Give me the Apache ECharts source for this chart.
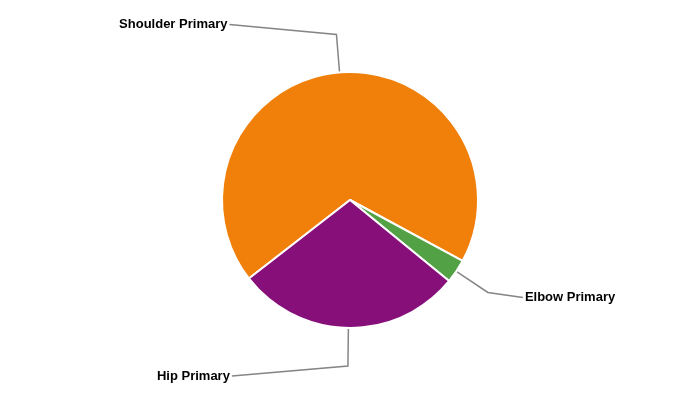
<!DOCTYPE html>
<html>
<head>
<meta charset="utf-8">
<script src="https://cdn.jsdelivr.net/npm/echarts@6/dist/echarts.min.js"></script>
<style>
  html, body { margin: 0; padding: 0; background: #fff; }
  #chart { width: 700px; height: 400px; }
</style>
</head>
<body>
<div id="chart"></div>
<script>
// ---- data ----
var categories = ['Shoulder Primary', 'Elbow Primary', 'Hip Primary'];
var values = [68.4, 3.0, 28.6];

// ---- styling (kept separate from data) ----
var sliceColors = ['#F0800A', '#52A245', '#860F7A'];
var lineLength2 = [107, 35, 116];
var labelShiftY = [-10, 5, 10];

var seriesData = categories.map(function (name, i) {
  return {
    name: name,
    value: values[i],
    itemStyle: { color: sliceColors[i] },
    labelLine: { length2: lineLength2[i] }
  };
});

var chart = echarts.init(document.getElementById('chart'), null, { renderer: 'canvas' });
chart.setOption({
  animation: false,
  backgroundColor: '#ffffff',
  series: [{
    type: 'pie',
    center: ['50%', '50%'],
    radius: 128,
    startAngle: 217.8,
    clockwise: true,
    avoidLabelOverlap: false,
    data: seriesData,
    itemStyle: { borderColor: '#ffffff', borderWidth: 2 },
    label: {
      show: true,
      position: 'outside',
      distanceToLabelLine: 2,
      color: '#000000',
      fontFamily: 'Arial, "Liberation Sans", sans-serif',
      fontWeight: 'bold',
      fontSize: 13,
      formatter: '{b}'
    },
    labelLine: {
      show: true,
      length: 38,
      length2: 60,
      lineStyle: { color: '#858585', width: 1.5 }
    },
    labelLayout: function (p) {
      var pts = p.labelLinePoints;
      if (!pts) return {};
      var shift = labelShiftY[p.dataIndex] || 0;
      var isLeft = pts[2][0] < pts[1][0];
      var newY = pts[2][1] + shift;
      return {
        x: isLeft ? p.labelRect.x + p.labelRect.width : p.labelRect.x,
        y: newY,
        labelLinePoints: [
          [pts[0][0], pts[0][1]],
          [pts[1][0], pts[1][1]],
          [pts[2][0], newY]
        ]
      };
    },
    emphasis: { disabled: true }
  }]
});
</script>
</body>
</html>
